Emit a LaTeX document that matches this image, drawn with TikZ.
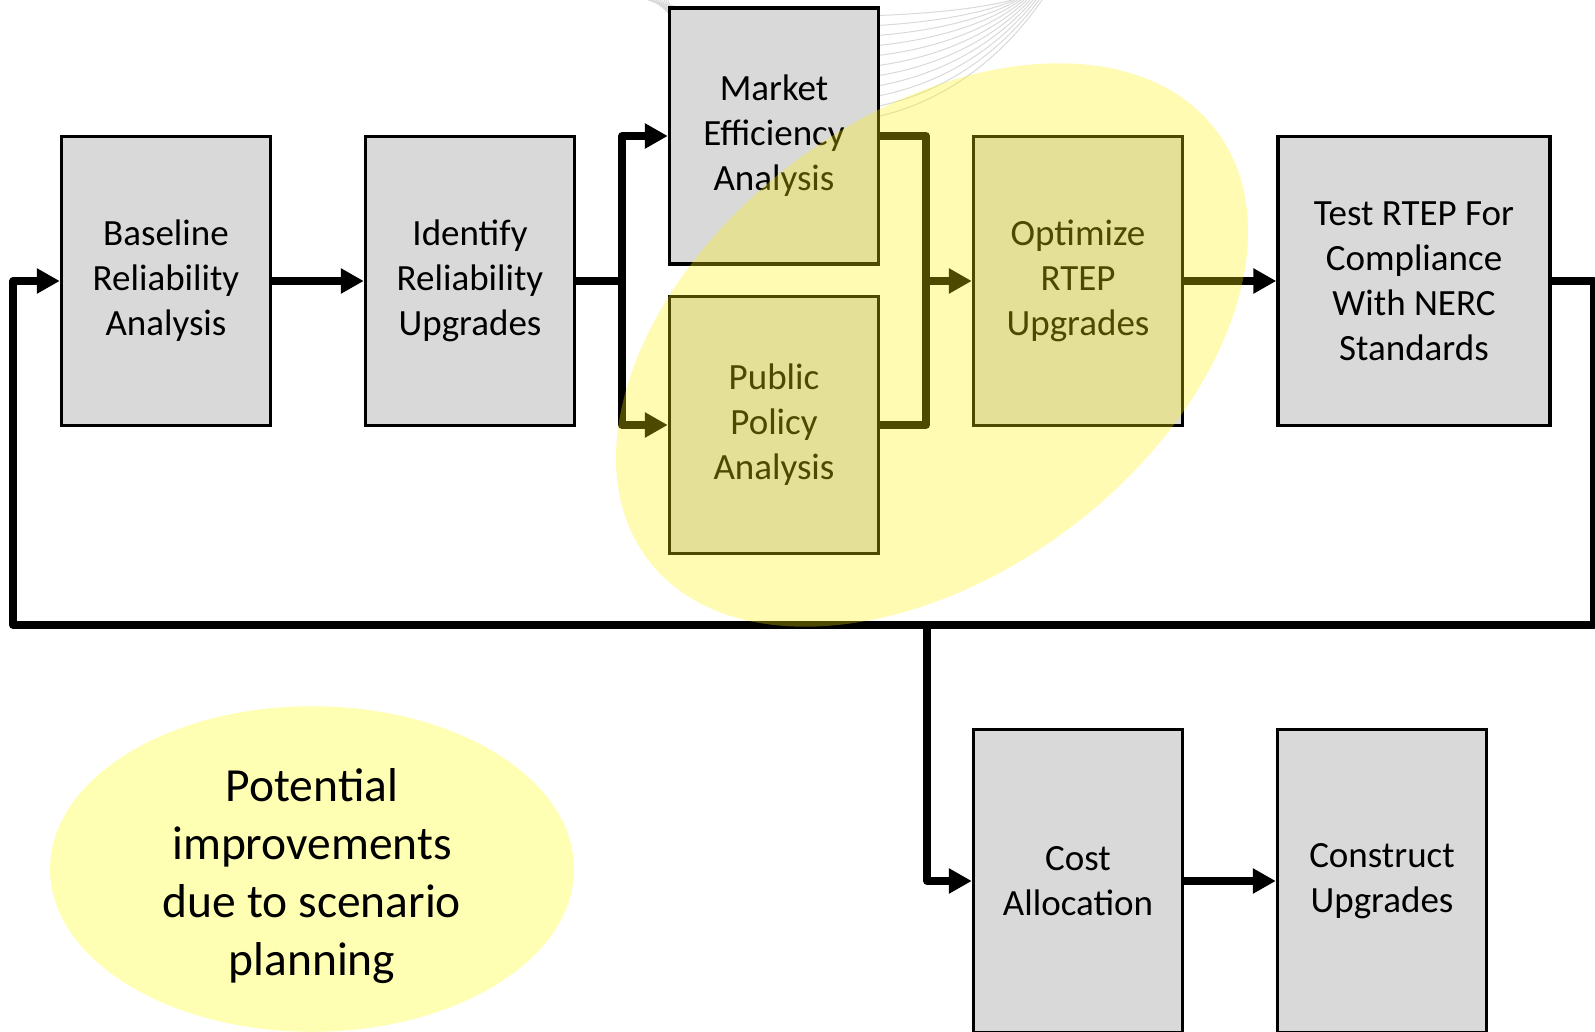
\documentclass[tikz,border=0pt]{standalone}
\usepackage{fontspec}
\setmainfont{Carlito}
\usepackage{tikz}
\usetikzlibrary{arrows.meta, shapes.geometric}
\definecolor{boxgray}{HTML}{D9D9D9}
\definecolor{paleyellow}{HTML}{FFFFB3}

\begin{document}
\begin{tikzpicture}[x=1pt, y=-1pt,
		box/.style={draw, fill=boxgray, line width=3.5pt, minimum width=209pt, minimum height=289pt,
			inner sep=0pt, align=center, font=\fontsize{37}{45}\selectfont},
		link/.style={line width=7.5pt, line join=round},
		arrow/.style={link, -{Triangle[length=23pt, width=24pt]}}]
	\useasboundingbox (0,0) rectangle (1595,1032);

	\foreach \i in {0,...,10}
		\draw[boxgray, line width=1pt] (648+2*\i, 0) .. controls (720, 22+14*\i) and (930, 22+14*\i) .. (1012+3*\i, 0);

	\node[ellipse, fill=paleyellow, minimum width=524pt, minimum height=322pt, inner sep=0pt, align=center,
		font=\fontsize{47.5}{58}\selectfont] (note) at (312, 869) {\\[-10pt]Potential\\improvements\\due to scenario\\planning};

	\node[box] (base) at (166, 281) {Baseline\\Reliability\\Analysis};
	\node[box] (ident) at (470, 281) {Identify\\Reliability\\Upgrades};
	\node[box, minimum height=256pt] (market) at (774, 136) {Market\\Efficiency\\Analysis};
	\node[box, minimum height=257pt] (public) at (774, 425) {Public\\Policy\\Analysis};
	\node[box] (optim) at (1078, 281) {Optimize\\RTEP\\Upgrades};
	\node[box, minimum width=272pt] (test) at (1414, 281) {Test RTEP For\\Compliance\\With NERC\\Standards};
	\node[box, minimum height=303pt] (cost) at (1078, 881) {Cost\\Allocation};
	\node[box, minimum height=303pt] (build) at (1382, 881) {Construct\\Upgrades};

	\coordinate (split) at (622, 281);
	\coordinate (merge) at (926, 281);
	\coordinate (rightdrop) at (1594, 625);
	\coordinate (leftrise) at (13, 625);
	\coordinate (fork) at (927, 625);

	\draw[arrow] (base) -- (ident);
	\draw[link] (ident) -- (split);
	\draw[arrow] (split) |- (market.west);
	\draw[arrow] (split) |- (public.west);
	\draw[link] (market.east) -| (merge) |- (public.east);
	\draw[arrow] (merge) -- (optim.west);
	\draw[arrow] (optim) -- (test);
	\draw[arrow] (test.east) -| (rightdrop) -- (leftrise) |- (base.west);
	\draw[arrow] (fork) |- (cost.west);
	\draw[arrow] (cost) -- (build);

	\fill[yellow, fill opacity=0.3, rotate around={37:(932,345)}] (932,345) ellipse [x radius=356, y radius=229];
\end{tikzpicture}
\end{document}
